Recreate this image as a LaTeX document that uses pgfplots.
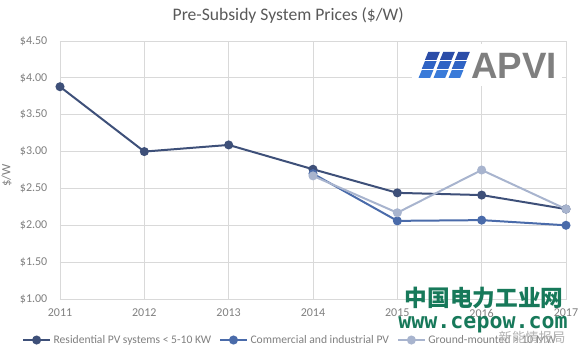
\documentclass[border=0pt]{standalone}
\usepackage{pgfplots}
\pgfplotsset{compat=1.18}
\usepackage{fontspec}
\setmainfont{Carlito}
\newfontfamily\cjk{Noto Sans CJK SC}
\newfontfamily\apvifont{Liberation Sans}
\newfontfamily\wwwfont{DejaVu Sans Mono}
\definecolor{resc}{HTML}{3E5079}
\definecolor{comc}{HTML}{4A6BAA}
\definecolor{grdc}{HTML}{A8B4CE}
\definecolor{txtc}{HTML}{7F7F7F}
\definecolor{titc}{HTML}{595959}
\definecolor{gridc}{HTML}{D9D9D9}
\definecolor{wmgreen}{HTML}{17795A}
\begin{document}
\begin{tikzpicture}
\useasboundingbox (-45pt,-41.25pt) rectangle (390pt,224.25pt);
\begin{axis}[
  scale only axis,
  width=379.5pt, height=193.5pt,
  at={(0,0)}, anchor=south west,
  xmin=2011, xmax=2017, ymin=1, ymax=4.5,
  xtick={2011,2012,...,2017},
  ytick={1,1.5,2,2.5,3,3.5,4,4.5},
  grid=major,
  grid style={draw=gridc, line width=0.6pt},
  axis line style={draw=gridc, line width=0.6pt},
  major tick length=0pt,
  /pgf/number format/assume math mode=true,
  /pgf/number format/1000 sep={},
  xticklabel style={font=\fontsize{9}{10}\selectfont, text=txtc, yshift=-4pt},
  yticklabel style={font=\fontsize{9}{10}\selectfont, text=txtc, xshift=-6pt},
  yticklabel={\$\pgfmathprintnumber[fixed,fixed zerofill,precision=2]{\tick}},
  ylabel={\$/W},
  ylabel style={font=\fontsize{9.5}{10}\selectfont, text=txtc, at={(axis description cs:-0.086,0.48)}},
  title={Pre-Subsidy System Prices (\$/W)},
  title style={font=\fontsize{13.2}{15}\selectfont, text=titc, at={(axis description cs:0.451,1.0)}, anchor=south, yshift=4pt},
  legend columns=3,
  legend style={draw=none, fill=none, font=\fontsize{8.7}{10}\selectfont, text=txtc,
    at={(axis description cs:-0.083,-0.159)}, anchor=west,
    /tikz/every even column/.append style={column sep=4pt}},
  legend image code/.code={\draw[mark repeat=2,mark phase=2,#1] plot coordinates {(0pt,0pt) (10pt,0pt) (20pt,0pt)};},
  every axis plot/.append style={line width=1.5pt, mark=*, mark size=2.6pt},
]
\addplot[color=resc, mark options={fill=resc, draw=resc}] coordinates {
  (2011,3.88) (2012,3.00) (2013,3.09) (2014,2.76) (2015,2.44) (2016,2.41) (2017,2.22)};
\addlegendentry{Residential PV systems < 5-10 KW}
\addplot[color=comc, mark options={fill=comc, draw=comc}] coordinates {
  (2014,2.70) (2015,2.06) (2016,2.07) (2017,2.00)};
\addlegendentry{Commercial and industrial PV}
\addplot[color=grdc, mark options={fill=grdc, draw=grdc}] coordinates {
  (2014,2.67) (2015,2.17) (2016,2.75) (2017,2.22)};
\addlegendentry{Ground-mounted > 10 MW}
\end{axis}
\begin{scope}[shift={(-45pt,224.25pt)}, x=0.75pt, y=-0.75pt]
  % APVI logo
  \fill[white] (412,44) rectangle (562,86);
  \foreach \r/\c in {0/2B4DA8,1/2F63C4,2/3A7BD9}{
    \foreach \k in {0,1,2}{
      \pgfmathsetmacro{\yy}{52+\r*9}
      \pgfmathsetmacro{\xx}{425+\k*15-\r*3.2}
      \definecolor{lc}{HTML}{\c}
      \fill[lc] (\xx+3.2,\yy) -- (\xx+14.8,\yy) -- (\xx+11.6,\yy+7.8) -- (\xx,\yy+7.8) -- cycle;
    }
  }
  \node[anchor=west, inner sep=0pt, text=txtc] at (471,65.5) {\apvifont\bfseries\fontsize{27.5}{30}\selectfont APVI};
  % watermark
  \node[inner sep=0pt, text=wmgreen] at (484,298) {\cjk\bfseries\fontsize{17}{19}\selectfont 中国电力工业网};
  \node[inner sep=0pt, text=wmgreen] at (483,325) {\wwwfont\bfseries\fontsize{16.2}{18}\selectfont www.cepow.com};
  \node[inner sep=0pt, text=gray!60] at (532,337) {\cjk\fontsize{10}{11}\selectfont 新能情报局};
\end{scope}
\end{tikzpicture}
\end{document}
